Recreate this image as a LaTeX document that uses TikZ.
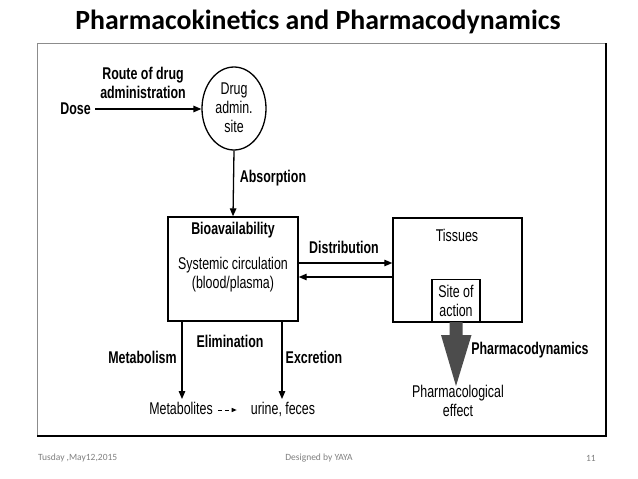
\documentclass[tikz,border=0pt]{standalone}
\usepackage{fontspec}
\setmainfont{Liberation Sans}[FakeStretch=0.73]
\newfontfamily\calibri{Carlito}
\usetikzlibrary{arrows.meta,shapes.geometric}
\begin{document}
\begin{tikzpicture}[x=1pt,y=-1pt,
  txt/.style={font=\fontsize{17}{19}\selectfont, inner sep=1pt, align=center},
  btxt/.style={font=\fontsize{17}{19}\selectfont\bfseries, inner sep=1pt, align=center},
  boxn/.style={draw=black, line width=1.4pt, minimum width=#1, inner sep=0pt},
  arr/.style={line width=1.3pt, -{Triangle[length=8pt,width=6.5pt]}},
  foot/.style={font=\calibri\fontsize{9.5}{11}\selectfont, text=black!50, inner sep=0pt}]
\useasboundingbox (0,0) rectangle (638,479);
\fill[white] (0,0) rectangle (638,479);
% title
\node[font=\calibri\bfseries\fontsize{27.8}{30}\selectfont, inner sep=0pt] (title) at (318,22) {Pharmacokinetics and Pharmacodynamics};
% frame
\draw[black!45, line width=0.8pt] (37,436) -- (37,43) -- (606,43);
\draw[black, line width=1.3pt] (606,43) -- (606,436) -- (37,436);
% dose and route
\node[btxt] (dose) at (75.5,109) {Dose};
\node[btxt] (route) at (143,82.5) {Route of drug\\administration};
\node[draw, line width=1.3pt, ellipse, minimum width=64pt, minimum height=83pt, inner sep=0pt] (site) at (234,108.5) {};
\node[txt] (sitetxt) at (234,108) {Drug\\admin.\\site};
\coordinate (d0) at (95,109);
\draw[arr] (d0) -- (site.west |- d0);
% absorption
\node[btxt] (absorb) at (273,178) {Absorption};
\node[boxn=130pt, minimum height=104pt] (bio) at (233,269) {};
\draw[arr] (site.south) -- (bio.north);
\node[btxt] (bioav) at (233,230) {Bioavailability};
\node[txt] (syst) at (233,274.5) {Systemic circulation\\(blood/plasma)};
% tissues
\node[boxn=129pt, minimum height=104pt] (tis) at (457.5,270) {};
\node[txt] (tistxt) at (457,235) {Tissues};
\node[boxn=48pt, minimum height=42pt, anchor=south] (soa) at (456,322) {};
\node[txt] (soatxt) at (456,300.5) {Site of\\action};
% distribution
\node[btxt] (distr) at (344,247) {Distribution};
\coordinate (dr) at (0,263);
\coordinate (dl) at (0,277);
\draw[arr] (bio.east |- dr) -- (tis.west |- dr);
\draw[arr] (tis.west |- dl) -- (bio.east |- dl);
% elimination
\node[btxt] (elim) at (230,341) {Elimination};
\node[btxt] (metab) at (142.5,357) {Metabolism};
\node[btxt] (excr) at (314,357) {Excretion};
\node[txt, inner sep=3pt, text height=12pt, text depth=3.5pt] (metabolites) at (181,410) {Metabolites};
\node[txt, inner sep=3pt, text height=12pt, text depth=3.5pt] (urine) at (283,410) {urine, feces};
\draw[arr] (bio.south -| 182,0) -- (metabolites.north -| 182,0);
\draw[arr] (bio.south -| 282,0) -- (urine.north -| 282,0);
\draw[line width=1pt, dash pattern=on 4pt off 3pt, shorten <=2pt, shorten >=11pt, -{Triangle[length=5pt,width=4pt]}] (metabolites.east) -- (urine.west);
% pharmacodynamics
\node[txt] (effect) at (458,401) {Pharmacological\\effect};
\fill[black!70] (soa.south) ++(-6.5,0) -- ++(0,13) -- ++(-8.5,0) -- (456,386) -- (471.5,335) -- ++(-9,0) -- ++(0,-13) -- cycle;
\node[btxt] (pd) at (530,350) {Pharmacodynamics};
% footer
\node[foot, anchor=west] (date) at (38,458) {Tusday ,May12,2015};
\node[foot] (designed) at (319,458) {Designed by YAYA};
\node[foot, anchor=east] (page) at (596,458) {11};
\end{tikzpicture}
\end{document}
